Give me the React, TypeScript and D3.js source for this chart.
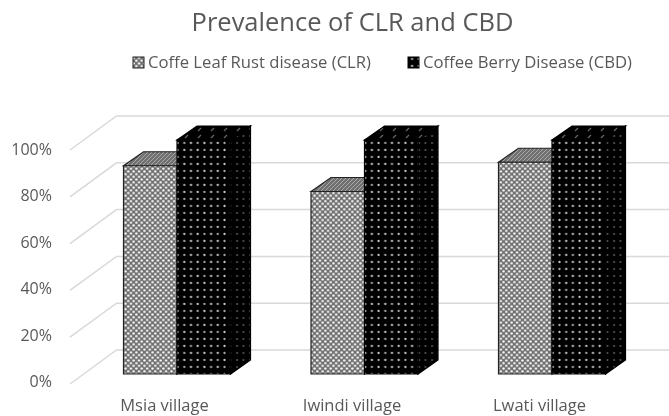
import React from "react";
import * as d3 from "d3";

const title = "Prevalence of CLR and CBD";
const categories = ["Msia village", "Iwindi village", "Lwati village"];
const seriesNames = ["Coffe Leaf Rust disease (CLR)", "Coffee Berry Disease (CBD)"];
const clrValues = [89, 78, 90.5];
const cbdValues = [100, 100, 100];
const ticks = [0, 20, 40, 60, 80, 100];

const W = 669, H = 416;
const FONT = "'Open Sans','Noto Sans',sans-serif";
const TXT = "#595959";

const App = () => {
  const y = d3.scaleLinear().domain([0, 100]).range([384, 150]);
  const labelY = d3.scaleLinear().domain([0, 100]).range([387, 155]);
  const x = d3.scaleBand().domain(categories).range([83.5, 646]).paddingInner(0).paddingOuter(0);
  const wallDx = 46.5, wallDy = -34;
  const barDx = 20, barDy = -14, lift = -10, barW = 53.5;
  const left = 70;

  const bar = (x0: number, v: number, front: string, top: string, side: string, stroke: string, key: string) => {
    const base = y(0) + lift, t = y(v) + lift, x1 = x0 + barW;
    const pts = (a: number[][]) => a.map(p => p.join(",")).join(" ");
    return (
      <g key={key} stroke={stroke} strokeWidth={1.2}>
        <polygon points={pts([[x1, t], [x1 + barDx, t + barDy], [x1 + barDx, base + barDy], [x1, base]])} fill={side} />
        <polygon points={pts([[x0, t], [x0 + barDx, t + barDy], [x1 + barDx, t + barDy], [x1, t]])} fill={top} />
        <polygon points={pts([[x0, t], [x1, t], [x1, base], [x0, base]])} fill={front} />
      </g>
    );
  };

  return (
    <svg width={W} height={H} style={{ position: "absolute", left: 0, top: 0, background: "#fff" }} fontFamily={FONT}>
      <defs>
        <filter id="soft" x="0" y="0" width="100%" height="100%"><feGaussianBlur stdDeviation="0.65" /></filter>
        <pattern id="clrFront" width="5.4" height="5.4" patternUnits="userSpaceOnUse">
          <rect width="5.4" height="5.4" fill="#6f6f6f" />
          <circle cx="1.35" cy="1.35" r="1.2" fill="#fff" />
          <circle cx="4.05" cy="4.05" r="1.2" fill="#fff" />
        </pattern>
        <pattern id="clrTop" width="4" height="4" patternUnits="userSpaceOnUse">
          <rect width="4" height="4" fill="#707070" />
          <path d="M0 4L4 0" stroke="#a8a8a8" strokeWidth="1" />
        </pattern>
        <pattern id="cbdFront" width="13.4" height="14" patternUnits="userSpaceOnUse">
          <rect width="13.4" height="14" fill="#000" />
          <circle cx="3.4" cy="3" r="1.15" fill="#c8c8c8" />
          <circle cx="10.1" cy="10" r="1.15" fill="#c8c8c8" />
          <circle cx="3.4" cy="10" r="1.15" fill="#a8a8a8" />
          <circle cx="10.1" cy="3" r="1.15" fill="#a8a8a8" />
        </pattern>
        <pattern id="cbdSide" width="6.5" height="7" patternUnits="userSpaceOnUse">
          <rect width="6.5" height="7" fill="#000" />
          <circle cx="3" cy="3" r="1" fill="#5c5c5c" />
        </pattern>
        <pattern id="cbdTop" width="13" height="7" patternUnits="userSpaceOnUse">
          <rect width="13" height="7" fill="#000" />
          <path d="M3 5L6 2" stroke="#666" strokeWidth="1.2" />
        </pattern>
      </defs>
      <g filter="url(#soft)">
        <rect width={W} height={H} fill="#fff" />
        <text x={352.5} y={31} textAnchor="middle" fontSize={25.5} fill={TXT}>{title}</text>

        <rect x={133} y={57} width={11} height={11} fill="url(#clrFront)" stroke="#222" />
        <text x={148} y={68} fontSize={16.5} fill={TXT} textLength={223} lengthAdjust="spacingAndGlyphs">{seriesNames[0]}</text>
        <rect x={408} y={57} width={11} height={11} fill="url(#cbdFront)" stroke="#000" />
        <text x={423} y={68} fontSize={16.5} fill={TXT} textLength={209} lengthAdjust="spacingAndGlyphs">{seriesNames[1]}</text>

        {ticks.map(t => (
          <g key={t}>
            <polyline
              points={`${left},${y(t)} ${left + wallDx},${y(t) + wallDy} ${W},${y(t) + wallDy}`}
              fill="none" stroke="#d9d9d9" strokeWidth={1.5} />
            <text x={52} y={labelY(t)} textAnchor="end" fontSize={16} fill={TXT}>{t}%</text>
          </g>
        ))}

        {categories.map((c, i) => {
          const x0 = x(c)! + 40;
          return (
            <g key={c}>
              {bar(x0, clrValues[i], "url(#clrFront)", "url(#clrTop)", "#555", "#222", c + "a")}
              {bar(x0 + barW, cbdValues[i], "url(#cbdFront)", "url(#cbdTop)", "url(#cbdSide)", "#000", c + "b")}
              <text x={x0 + 41} y={411} textAnchor="middle" fontSize={16.5} fill={TXT}>{c}</text>
            </g>
          );
        })}
      </g>
    </svg>
  );
};

export default App;
